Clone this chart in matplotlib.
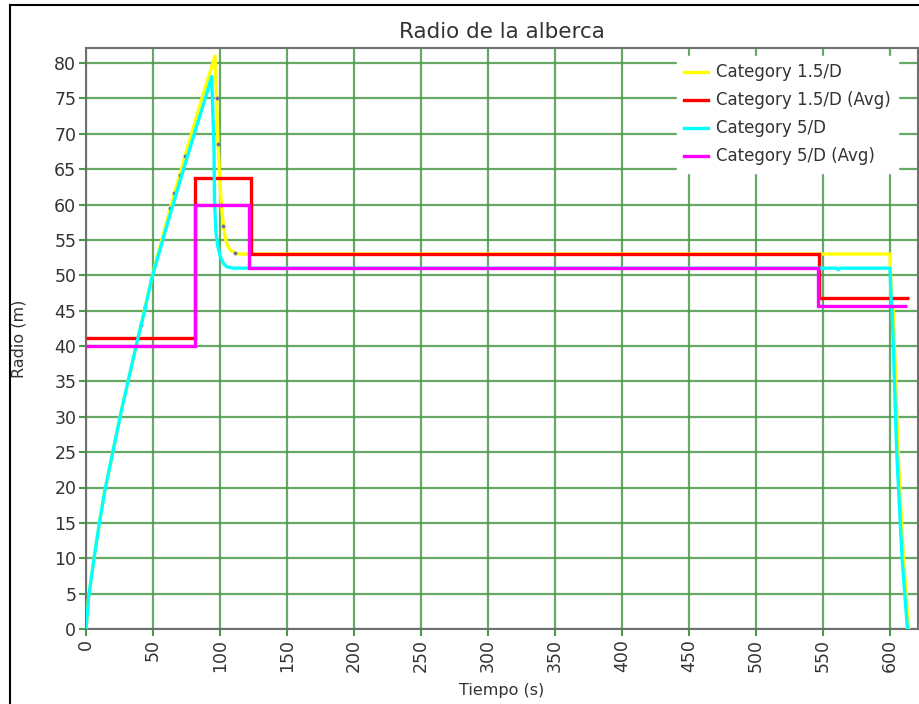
import matplotlib
matplotlib.use("Agg")
import matplotlib.pyplot as plt
from matplotlib.patches import Rectangle

plt.rcParams['font.family'] = ['DejaVu Sans']

# ---- data ----
yellow_t = [0, 2, 6, 10, 14, 20, 26, 32, 38, 41, 44, 50, 56, 60, 63, 66, 70, 74, 80, 90, 96.3, 97.5, 98.5, 100, 101, 102.5, 104, 105.5, 108, 111, 114, 547, 600, 601, 602.5, 606, 610, 612, 614]
yellow_y = [0, 4.5, 10, 15, 19.5, 25, 30.5, 35.5, 40.5, 43, 45.5, 50.3, 54.6, 57.4, 59.5, 61.6, 64.2, 66.9, 70.8, 77.2, 81, 75, 68.5, 63, 60, 57, 55.3, 54.2, 53.5, 53.2, 53, 53, 53, 47, 45, 25, 10, 5, 0]
yellow_dot_idx = [9, 10, 14, 15, 16, 17, 21, 22, 24, 25, 29]

cyan_t = [0, 2, 6, 10, 14, 20, 26, 32, 38, 44, 49, 60, 70, 80, 90, 93.8, 95.5, 95.9, 97, 98.5, 100.3, 102.5, 105, 110, 560, 561.5, 563, 600, 601, 601.6, 605, 609, 611, 613]
cyan_y = [0, 4.5, 10, 15, 19.5, 25, 30.5, 35.5, 40.5, 45.2, 49.5, 56.8, 63.2, 69.5, 75.6, 78.1, 68.2, 60.6, 56, 54, 52.6, 51.7, 51.2, 51, 51, 50.8, 51, 51, 46, 45, 25, 10, 5, 0]

red_edges = [0, 81.5, 123, 547, 614]
red_vals = [41.1, 63.8, 53.0, 46.8]

mag_edges = [0, 81, 122, 546, 612.5]
mag_vals = [40.0, 60.0, 51.0, 45.6]

x_ticks = list(range(0, 601, 50))
y_ticks = list(range(0, 81, 5))

# ---- figure ----
fig = plt.figure(figsize=(9.2, 7.04), dpi=100)
fig.patch.set_facecolor('white')
fig.patches.append(Rectangle((10 / 920, -0.05), 1.2, 1 - 5 / 704 + 0.05,
                             transform=fig.transFigure, fill=False,
                             edgecolor='black', linewidth=1.5, zorder=0))

ax = fig.add_axes([86 / 920, 1 - 629 / 704, (918 - 86) / 920, (629 - 48) / 704])

grid_col = '#4a9a4a'
txt_col = '#333333'
ax.set_xlim(0, (918 - 86) / 1.34)
ax.set_ylim(0, (629 - 48) / 7.075)
ax.set_xticks(x_ticks)
ax.set_yticks(y_ticks)
ax.set_xticklabels([str(v) for v in x_ticks], rotation=90)
ax.grid(True, color=grid_col, linewidth=1.6, alpha=0.85, zorder=0)
ax.set_axisbelow(True)
ax.tick_params(axis='both', colors=grid_col, length=5, width=1.5, direction='out',
               labelsize=12.5, labelcolor=txt_col, pad=2)
for s in ax.spines.values():
    s.set_color('#707070')
    s.set_linewidth(1.5)

lw = 2.4
ax.plot(yellow_t, yellow_y, color='#ffff00', lw=lw, label='Category 1.5/D', zorder=3)
ax.plot([yellow_t[i] for i in yellow_dot_idx], [yellow_y[i] for i in yellow_dot_idx],
        linestyle='none', marker='o', markersize=1.8, color='#7070a0', zorder=3.5)
ax.stairs(red_vals, red_edges, baseline=None, color='#ff0000', lw=lw,
          label='Category 1.5/D (Avg)', zorder=4)
ax.plot(cyan_t, cyan_y, color='#00ffff', lw=lw, label='Category 5/D', zorder=5)
ax.stairs(mag_vals, mag_edges, baseline=None, color='#ff00ff', lw=lw,
          label='Category 5/D (Avg)', zorder=6)

leg = ax.legend(loc='upper right', bbox_to_anchor=(0.98, 0.992), fontsize=12,
                frameon=True, fancybox=False, edgecolor='white', framealpha=1,
                handlelength=1.45, handletextpad=0.45, borderpad=0.45, labelspacing=0.6,
                borderaxespad=0.2)
leg.set_zorder(10)
for t in leg.get_texts():
    t.set_color(txt_col)

ax.set_title('Radio de la alberca', fontsize=15.5, color=txt_col, pad=7)
ax.set_xlabel('Tiempo (s)', fontsize=11.5, color=txt_col, labelpad=8)
ax.set_ylabel('Radio (m)', fontsize=11.5, color=txt_col, labelpad=20)

fig.savefig('out.png', dpi=100)
